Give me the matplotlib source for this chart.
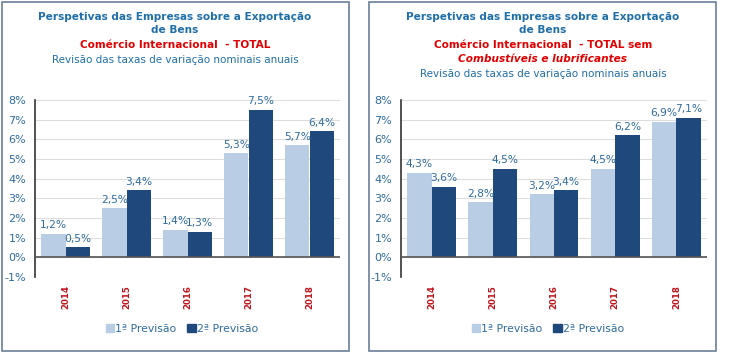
import matplotlib
matplotlib.use("Agg")
import matplotlib.pyplot as plt
from matplotlib.patches import Rectangle, Patch
import numpy as np

years = ["2014", "2015", "2016", "2017", "2018"]
left_prev1 = [1.2, 2.5, 1.4, 5.3, 5.7]
left_prev2 = [0.5, 3.4, 1.3, 7.5, 6.4]
right_prev1 = [4.3, 2.8, 3.2, 4.5, 6.9]
right_prev2 = [3.6, 4.5, 3.4, 6.2, 7.1]
series_names = ["1ª Previsão", "2ª Previsão"]
yticks = [-1, 0, 1, 2, 3, 4, 5, 6, 7, 8]

C1 = "#B9CDE5"
C2 = "#1F497D"
TXT = "#2E6C9E"
TITLE = "#1F6FA8"
RED = "#E00000"
YEAR = "#C0141C"

W, H = 750, 353
fig = plt.figure(figsize=(W / 100, H / 100), dpi=100)
fig.patch.set_facecolor("white")
plt.rcParams["font.family"] = ["DejaVu Sans"]

def fx(px):
    return px / W

def fy(py):
    return 1 - py / H

# panel frames
for (x0, x1) in [(1.5, 349), (369, 716)]:
    fig.add_artist(Rectangle((fx(x0), fy(351)), fx(x1 - x0), (351 - 1.5) / H,
                             transform=fig.transFigure, fill=False,
                             edgecolor="#6A7F99", linewidth=1.2))

def fmt(v):
    return f"{v:.1f}%".replace(".", ",")

def panel(xl, xr, p1, p2):
    ax = fig.add_axes([fx(xl), fy(277), fx(xr - xl), (277 - 100) / H])
    x = np.arange(len(years))
    w = 0.4
    b1 = ax.bar(x - w / 2, p1, w, color=C1, zorder=3)
    b2 = ax.bar(x + w / 2, p2, w, color=C2, zorder=3)
    ax.set_xlim(-0.5, len(years) - 0.5)
    ax.set_ylim(-1, 8)
    ax.set_yticks(yticks)
    ax.set_yticklabels([f"{t}%" for t in yticks], color=TXT, fontsize=8)
    ax.yaxis.grid(True, color="#DDDDDD", linewidth=0.8, zorder=0)
    ax.axhline(0, color="#555555", linewidth=1.2, zorder=4)
    for s in ["top", "right", "bottom"]:
        ax.spines[s].set_visible(False)
    ax.spines["left"].set_color("#333333")
    ax.spines["left"].set_linewidth(1.2)
    ax.tick_params(axis="y", length=0, pad=6.5)
    ax.tick_params(axis="x", length=0, pad=6)
    ax.set_xticks(x)
    ax.set_xticklabels(years, rotation=90, color=YEAR, fontsize=6.2, fontweight="bold")
    for bars, vals in [(b1, p1), (b2, p2)]:
        for b, v in zip(bars, vals):
            ax.annotate(fmt(v), (b.get_x() + b.get_width() / 2, v),
                        xytext=(0, 2.5), textcoords="offset points",
                        ha="center", va="bottom", color=TXT, fontsize=7.7, zorder=5)
    return ax

panel(35, 340, left_prev1, left_prev2)
panel(401, 707, right_prev1, right_prev2)

def legend_at(cx):
    handles = [Patch(color=C1), Patch(color=C2)]
    leg = fig.legend(handles, series_names, loc="center", bbox_to_anchor=(fx(cx), fy(329)),
                     ncol=2, frameon=False, fontsize=7.8, handlelength=0.75, handleheight=0.75,
                     handletextpad=0.15, columnspacing=1.0, borderpad=0, borderaxespad=0)
    for t in leg.get_texts():
        t.set_color(TXT)

legend_at(182)
legend_at(548)

TS = 7.6
# titles left
lc = 175
fig.text(fx(lc), fy(16.5), "Perspetivas das Empresas sobre a Exportação", ha="center", va="center",
         color=TITLE, fontsize=TS, fontweight="bold")
fig.text(fx(lc), fy(30), "de Bens", ha="center", va="center", color=TITLE, fontsize=TS, fontweight="bold")
fig.text(fx(lc), fy(45), "Comércio Internacional  - TOTAL", ha="center", va="center",
         color=RED, fontsize=TS, fontweight="bold")
fig.text(fx(lc), fy(60), "Revisão das taxas de variação nominais anuais", ha="center", va="center",
         color=TITLE, fontsize=7.5)

rc = 543
fig.text(fx(rc), fy(16.5), "Perspetivas das Empresas sobre a Exportação", ha="center", va="center",
         color=TITLE, fontsize=TS, fontweight="bold")
fig.text(fx(rc), fy(30), "de Bens", ha="center", va="center", color=TITLE, fontsize=TS, fontweight="bold")
fig.text(fx(rc), fy(45), "Comércio Internacional  - TOTAL sem", ha="center", va="center",
         color=RED, fontsize=TS, fontweight="bold")
fig.text(fx(rc), fy(59.5), "Combustíveis e lubrificantes", ha="center", va="center",
         color=RED, fontsize=TS, fontweight="bold", style="italic")
fig.text(fx(rc), fy(74), "Revisão das taxas de variação nominais anuais", ha="center", va="center",
         color=TITLE, fontsize=7.5)

fig.savefig("out.png", dpi=100, facecolor="white")
